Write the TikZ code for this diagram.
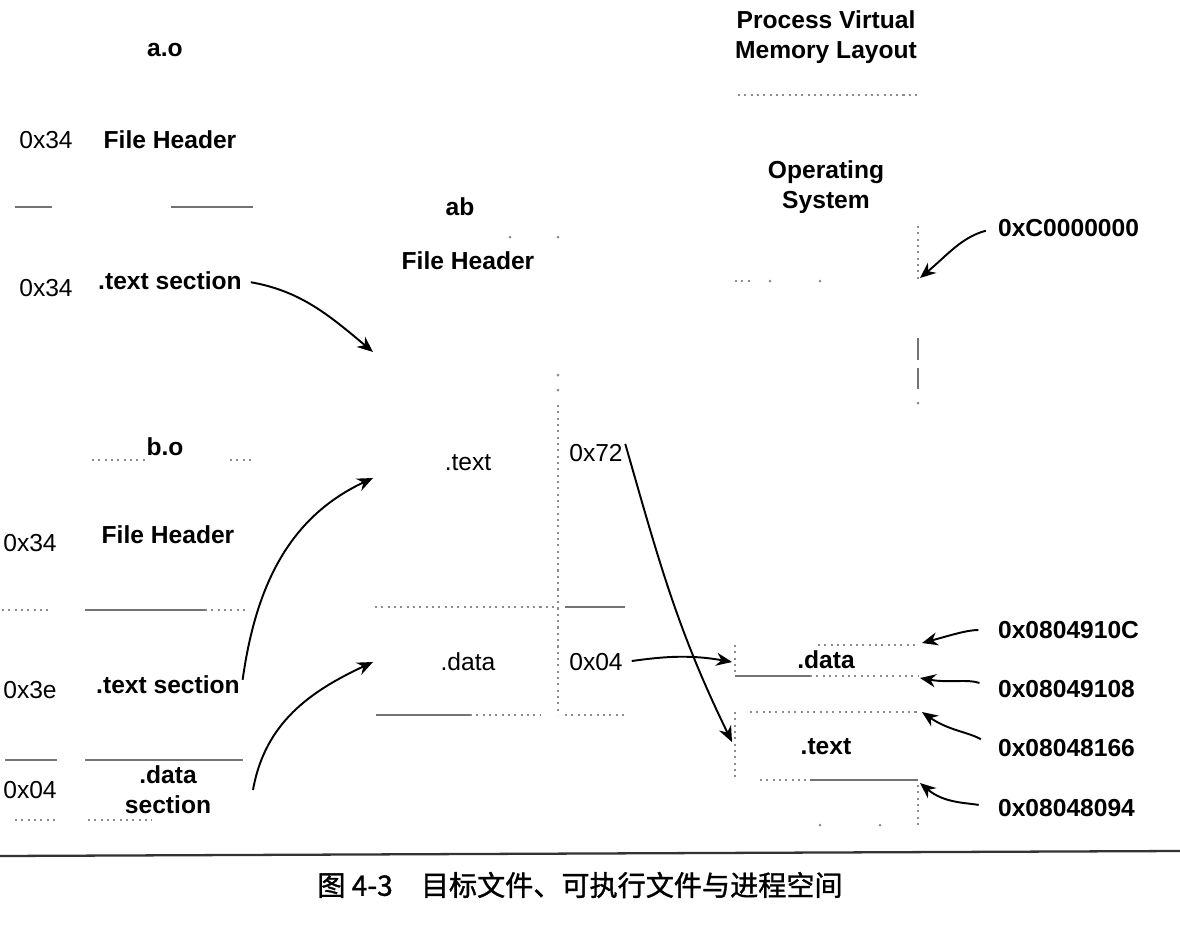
\documentclass[tikz,border=0pt]{standalone}
\usepackage{fontspec}
\setmainfont{Liberation Sans}
\newfontfamily\cjk[FakeBold=1.2]{Noto Sans CJK SC}
\usepackage{tikz}
\usetikzlibrary{positioning,arrows.meta}
\tikzset{lbl/.style={font=\bfseries\fontsize{14}{17}\selectfont,align=center,inner sep=1pt}}
\tikzset{hex/.style={font=\fontsize{14}{17}\selectfont,inner sep=1pt}}
\tikzset{addr/.style={lbl,anchor=west}}
\tikzset{ptr/.style={->,line width=1.1pt}}
\tikzset{rim/.style={draw=black!55,line width=0.6pt}}
\tikzset{seam/.style={draw=black!45,line width=0.6pt,dash pattern=on 1.2pt off 2.4pt}}

\begin{document}
\begin{tikzpicture}[>={Stealth[length=9pt,width=7.5pt]},x=0.2cm,y=-0.2cm]
    \useasboundingbox (0,0) rectangle (118,92.6);

    \node[lbl] (ao) at (16.5,5) {a.o};
    \node[hex] (aohdrsz) at (4.6,14) {0x34};
    \node[lbl] (aohdr) at (17,14) {File Header};
    \node[hex] (aotextsz) at (4.6,28.8) {0x34};
    \node[lbl] (aotext) at (17,28.1) {.text section};

    \node[lbl] (bo) at (16.5,44.7) {b.o};
    \node[hex] (bohdrsz) at (3,54.3) {0x34};
    \node[lbl] (bohdr) at (16.8,53.5) {File Header};
    \node[hex] (botextsz) at (3,69) {0x3e};
    \node[lbl] (botext) at (16.8,68.5) {.text section};
    \node[hex] (bodatasz) at (3,79) {0x04};
    \node[lbl] (bodata) at (16.8,79) {.data\\section};

    \node[lbl] (ab) at (46,20.7) {ab};
    \node[lbl] (abhdr) at (46.8,26.1) {File Header};
    \node[hex] (abtext) at (46.8,46.3) {.text};
    \node[hex] (abtextsz) at (59.6,45.3) {0x72};
    \node[hex] (abdata) at (46.8,66.2) {.data};
    \node[hex] (abdatasz) at (59.6,66.2) {0x04};

    \node[lbl] (vm) at (82.6,3.7) {Process Virtual\\Memory Layout};
    \node[lbl] (os) at (82.6,18.7) {Operating\\System};
    \node[lbl] (vmdata) at (82.6,66) {.data};
    \node[lbl] (vmtext) at (82.6,74.7) {.text};

    \node[addr] (kern) at (99.6,22.8) {0xC0000000};
    \node[addr] (dataend) at (99.6,63) {0x0804910C};
    \node[addr] (datastart) at (99.6,68.9) {0x08049108};
    \node[addr] (textend) at (99.6,74.8) {0x08048166};
    \node[addr] (textstart) at (99.6,80.8) {0x08048094};

    \coordinate (abhdrin) at (37.3,35.2);
    \coordinate (abtextin) at (37.3,47.8);
    \coordinate (abdatain) at (37.3,66.2);
    \coordinate (bodataout) at (25.3,79);
    \coordinate (vmdatain) at (73.2,66.2);
    \coordinate (vmtextin) at (73.2,74.2);
    \coordinate (oslow) at (92,27.8);
    \coordinate (datatop) at (92.2,64.3);
    \coordinate (databot) at (92,67.8);
    \coordinate (texttop) at (92.2,71.2);
    \coordinate (textbot) at (92,78.3);

    \draw[rim] (1.5,20.7) -- (5.2,20.7) (17.1,20.7) -- (25.3,20.7) (8.5,61) -- (20.5,61)
        (0.5,76) -- (5.7,76) (8.5,76) -- (24.3,76) (56.5,60.7) -- (62.5,60.7)
        (37.6,71.5) -- (47,71.5) (81,78) -- (91.8,78) (73.5,67.6) -- (81,67.6)
        (91.8,33.8) -- (91.8,36) (91.8,36.8) -- (91.8,38.9);
    \draw[seam] (9.2,46) -- (14.5,46) (23,46) -- (25.2,46) (0.2,61) -- (5.2,61)
        (20.5,61) -- (24.7,61) (1.5,82) -- (5.5,82) (8.8,82) -- (15.2,82)
        (55.8,40.5) -- (55.8,71.5) (37.5,60.7) -- (55.8,60.7) (47,71.5) -- (54,71.5)
        (56.5,71.5) -- (62.5,71.5) (73.8,9.5) -- (91.8,9.5) (73.5,28.1) -- (75.2,28.1)
        (91.8,22.6) -- (91.8,28) (81.8,64.5) -- (91.8,64.5) (81,67.6) -- (91.8,67.6)
        (73.5,64.5) -- (73.5,67.6) (75,71.2) -- (91.8,71.2) (76,78) -- (81,78)
        (73.5,71.2) -- (73.5,78.1) (91.8,78.5) -- (91.8,82.5);
    \fill[black!45] (51,23.7) circle (0.15) (55.8,23.7) circle (0.15) (55.8,37.5) circle (0.15)
        (55.8,39) circle (0.15) (91.8,40.3) circle (0.15) (77,28.1) circle (0.15)
        (82,28.1) circle (0.15) (82,82.5) circle (0.15) (88,82.5) circle (0.15);

    \draw[ptr,shorten <=4pt] (aotext.east) to[out=-10,in=140] (abhdrin);
    \draw[ptr,shorten <=3pt] (botext.east) to[out=82,in=205] (abtextin);
    \draw[ptr] (bodataout) to[out=80,in=205] (abdatain);
    \draw[ptr,shorten <=1pt] (abtextsz.north east) to[out=-74,in=116] (vmtextin);
    \draw[ptr,shorten <=4pt] (abdatasz.east) to[out=8,in=170] (vmdatain);
    \draw[ptr,shorten <=6pt] (kern.west) to[out=195,in=40] (oslow);
    \draw[ptr,shorten <=10pt] (dataend.west) to[out=180,in=15] (datatop);
    \draw[ptr,shorten <=10pt] (datastart.west) to[out=160,in=-10] (databot);
    \draw[ptr,shorten <=10pt] (textend.west) to[out=150,in=-35] (texttop);
    \draw[ptr,shorten <=10pt] (textstart.west) to[out=170,in=-40] (textbot);

    \draw[line width=1.3pt,black!80] (0,85.6) -- (118,85.1);
    \node[font=\cjk\fontsize{16}{19}\selectfont] (cap) at (58,88.5) {图 4-3\quad 目标文件、可执行文件与进程空间};
\end{tikzpicture}
\end{document}
